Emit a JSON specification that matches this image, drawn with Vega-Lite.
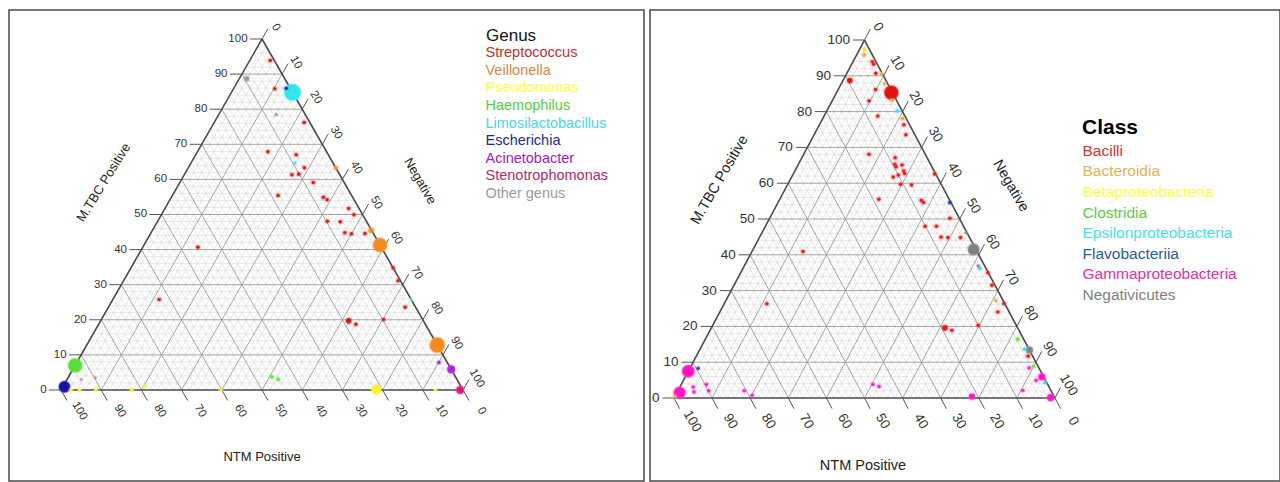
{
"$schema": "https://vega.github.io/schema/vega-lite/v6.json",
"background": "white",
"padding": {"left": 8, "top": 9, "right": 0, "bottom": 0},
"spacing": 4,
"config": {"view": {"stroke": "#4a4a4a", "strokeWidth": 1.5}, "font": "Liberation Sans", "text": {"font": "Liberation Sans"}, "legend": {"padding": 0}},
"resolve": {"scale": {"x": "independent", "y": "independent", "color": "independent", "stroke": "independent", "size": "independent"}, "legend": {"color": "independent", "size": "independent"}},
"datasets": {
"grid": [
{"k":"M","v":0},{"k":"M","v":2},{"k":"M","v":4},{"k":"M","v":6},{"k":"M","v":8},{"k":"M","v":10},{"k":"M","v":12},{"k":"M","v":14},{"k":"M","v":16},{"k":"M","v":18},{"k":"M","v":20},{"k":"M","v":22},{"k":"M","v":24},{"k":"M","v":26},{"k":"M","v":28},{"k":"M","v":30},{"k":"M","v":32},{"k":"M","v":34},{"k":"M","v":36},{"k":"M","v":38},{"k":"M","v":40},{"k":"M","v":42},{"k":"M","v":44},{"k":"M","v":46},{"k":"M","v":48},{"k":"M","v":50},{"k":"M","v":52},{"k":"M","v":54},{"k":"M","v":56},{"k":"M","v":58},{"k":"M","v":60},{"k":"M","v":62},{"k":"M","v":64},{"k":"M","v":66},{"k":"M","v":68},{"k":"M","v":70},{"k":"M","v":72},{"k":"M","v":74},{"k":"M","v":76},{"k":"M","v":78},{"k":"M","v":80},{"k":"M","v":82},{"k":"M","v":84},{"k":"M","v":86},{"k":"M","v":88},{"k":"M","v":90},{"k":"M","v":92},{"k":"M","v":94},{"k":"M","v":96},{"k":"M","v":98},
{"k":"G","v":0},{"k":"G","v":2},{"k":"G","v":4},{"k":"G","v":6},{"k":"G","v":8},{"k":"G","v":10},{"k":"G","v":12},{"k":"G","v":14},{"k":"G","v":16},{"k":"G","v":18},{"k":"G","v":20},{"k":"G","v":22},{"k":"G","v":24},{"k":"G","v":26},{"k":"G","v":28},{"k":"G","v":30},{"k":"G","v":32},{"k":"G","v":34},{"k":"G","v":36},{"k":"G","v":38},{"k":"G","v":40},{"k":"G","v":42},{"k":"G","v":44},{"k":"G","v":46},{"k":"G","v":48},{"k":"G","v":50},{"k":"G","v":52},{"k":"G","v":54},{"k":"G","v":56},{"k":"G","v":58},{"k":"G","v":60},{"k":"G","v":62},{"k":"G","v":64},{"k":"G","v":66},{"k":"G","v":68},{"k":"G","v":70},{"k":"G","v":72},{"k":"G","v":74},{"k":"G","v":76},{"k":"G","v":78},{"k":"G","v":80},{"k":"G","v":82},{"k":"G","v":84},{"k":"G","v":86},{"k":"G","v":88},{"k":"G","v":90},{"k":"G","v":92},{"k":"G","v":94},{"k":"G","v":96},{"k":"G","v":98},
{"k":"N","v":0},{"k":"N","v":2},{"k":"N","v":4},{"k":"N","v":6},{"k":"N","v":8},{"k":"N","v":10},{"k":"N","v":12},{"k":"N","v":14},{"k":"N","v":16},{"k":"N","v":18},{"k":"N","v":20},{"k":"N","v":22},{"k":"N","v":24},{"k":"N","v":26},{"k":"N","v":28},{"k":"N","v":30},{"k":"N","v":32},{"k":"N","v":34},{"k":"N","v":36},{"k":"N","v":38},{"k":"N","v":40},{"k":"N","v":42},{"k":"N","v":44},{"k":"N","v":46},{"k":"N","v":48},{"k":"N","v":50},{"k":"N","v":52},{"k":"N","v":54},{"k":"N","v":56},{"k":"N","v":58},{"k":"N","v":60},{"k":"N","v":62},{"k":"N","v":64},{"k":"N","v":66},{"k":"N","v":68},{"k":"N","v":70},{"k":"N","v":72},{"k":"N","v":74},{"k":"N","v":76},{"k":"N","v":78},{"k":"N","v":80},{"k":"N","v":82},{"k":"N","v":84},{"k":"N","v":86},{"k":"N","v":88},{"k":"N","v":90},{"k":"N","v":92},{"k":"N","v":94},{"k":"N","v":96},{"k":"N","v":98}
],
"ticks": [{"v":0},{"v":10},{"v":20},{"v":30},{"v":40},{"v":50},{"v":60},{"v":70},{"v":80},{"v":90},{"v":100}]
},
"hconcat": [
{
"width": 635, "height": 471,
"encoding": {
 "x": {"field": "x", "type": "quantitative", "scale": {"domain": [-12.94, 145.02], "nice": false, "zero": false}, "axis": null},
 "y": {"field": "y", "type": "quantitative", "scale": {"domain": [-25.93, 108.26], "nice": false, "zero": false}, "axis": null}
},
"layer": [
 {"data": {"name": "grid"},
  "transform": [
   {"calculate": "datum.k === 'M' ? datum.v / 2 : datum.k === 'G' ? datum.v : 100 - datum.v", "as": "x"},
   {"calculate": "datum.k === 'M' ? datum.v : 0", "as": "y"},
   {"calculate": "datum.k === 'M' ? 100 - datum.v / 2 : datum.k === 'G' ? (100 + datum.v) / 2 : (100 - datum.v) / 2", "as": "xe"},
   {"calculate": "datum.k === 'M' ? datum.v : 100 - datum.v", "as": "ye"}
  ],
  "layer": [
   {"transform": [{"filter": "datum.v % 10 !== 0"}], "mark": {"type": "rule", "color": "#d6d6d6", "strokeWidth": 0.6}, "encoding": {"x2": {"field": "xe"}, "y2": {"field": "ye"}}},
   {"transform": [{"filter": "datum.v % 10 === 0 && datum.v > 0"}], "mark": {"type": "rule", "color": "#9a9a9a", "strokeWidth": 0.9}, "encoding": {"x2": {"field": "xe"}, "y2": {"field": "ye"}}},
   {"transform": [{"filter": "datum.v === 0"}], "mark": {"type": "rule", "color": "#4a4a4a", "strokeWidth": 1.6}, "encoding": {"x2": {"field": "xe"}, "y2": {"field": "ye"}}}
  ]
 },
 {"data": {"name": "ticks"},
  "layer": [
   {"transform": [{"calculate": "datum.v / 2", "as": "x"}, {"calculate": "datum.v", "as": "y"}, {"calculate": "datum.v / 2 - 3", "as": "xe"}], "mark": {"type": "rule", "color": "#555555", "strokeWidth": 1}, "encoding": {"x2": {"field": "xe"}, "y2": {"field": "y"}}},
   {"transform": [{"calculate": "datum.v / 2 - 3.6", "as": "x"}, {"calculate": "datum.v", "as": "y"}], "mark": {"type": "text", "align": "right", "baseline": "middle", "fontSize": 11.5, "color": "#333333"}, "encoding": {"text": {"field": "v", "type": "quantitative"}}},
   {"transform": [{"calculate": "100 - datum.v", "as": "x"}, {"calculate": "0", "as": "y"}, {"calculate": "101.5 - datum.v", "as": "xe"}, {"calculate": "-3", "as": "ye"}], "mark": {"type": "rule", "color": "#555555", "strokeWidth": 1}, "encoding": {"x2": {"field": "xe"}, "y2": {"field": "ye"}}},
   {"transform": [{"calculate": "104.6 - datum.v", "as": "x"}, {"calculate": "-6", "as": "y"}], "mark": {"type": "text", "align": "center", "baseline": "middle", "angle": 60, "fontSize": 11.5, "color": "#333333"}, "encoding": {"text": {"field": "v", "type": "quantitative"}}},
   {"transform": [{"calculate": "(100 + datum.v) / 2", "as": "x"}, {"calculate": "100 - datum.v", "as": "y"}, {"calculate": "(103 + datum.v) / 2", "as": "xe"}, {"calculate": "103 - datum.v", "as": "ye"}], "mark": {"type": "rule", "color": "#555555", "strokeWidth": 1}, "encoding": {"x2": {"field": "xe"}, "y2": {"field": "ye"}}},
   {"transform": [{"calculate": "(100 + datum.v) / 2 + 3.4", "as": "x"}, {"calculate": "103.3 - datum.v", "as": "y"}], "mark": {"type": "text", "align": "center", "baseline": "middle", "angle": 60, "fontSize": 11.5, "color": "#333333"}, "encoding": {"text": {"field": "v", "type": "quantitative"}}}
  ]
 },
 {"data": {"values": [{"title": "M.TBC Positive"}]}, "transform": [{"calculate": "10.6", "as": "x"}, {"calculate": "59.1", "as": "y"}], "mark": {"type": "text", "angle": -58, "fontSize": 13, "color": "#222222", "align": "center", "baseline": "middle"}, "encoding": {"text": {"field": "title"}}},
 {"data": {"values": [{"title": "Negative"}]}, "transform": [{"calculate": "89.3", "as": "x"}, {"calculate": "59.5", "as": "y"}], "mark": {"type": "text", "angle": 60, "fontSize": 13, "color": "#222222", "align": "center", "baseline": "middle"}, "encoding": {"text": {"field": "title"}}},
 {"data": {"values": [{"title": "NTM Positive"}]}, "transform": [{"calculate": "50", "as": "x"}, {"calculate": "-19.1", "as": "y"}], "mark": {"type": "text", "fontSize": 13, "color": "#222222", "align": "center", "baseline": "middle"}, "encoding": {"text": {"field": "title"}}},
 {"data": {"values": [
  {"genus":"Other genus","mtbc":88.7,"ntm":9.5,"neg":1.8,"n":9},
  {"genus":"Streptococcus","mtbc":93.9,"ntm":1.0,"neg":5.1,"n":4},
  {"genus":"Streptococcus","mtbc":85.8,"ntm":3.9,"neg":10.3,"n":4},
  {"genus":"Escherichia","mtbc":86.0,"ntm":1.0,"neg":13.0,"n":3},
  {"genus":"Limosilactobacillus","mtbc":84.8,"ntm":0,"neg":15.2,"n":90},
  {"genus":"Other genus","mtbc":78.5,"ntm":7.2,"neg":14.3,"n":3},
  {"genus":"Streptococcus","mtbc":76.2,"ntm":1.4,"neg":22.4,"n":4},
  {"genus":"Streptococcus","mtbc":67.9,"ntm":14.6,"neg":17.5,"n":4},
  {"genus":"Streptococcus","mtbc":67.0,"ntm":8.0,"neg":25.0,"n":4},
  {"genus":"Limosilactobacillus","mtbc":64.7,"ntm":9.5,"neg":25.8,"n":3},
  {"genus":"Streptococcus","mtbc":63.3,"ntm":7.8,"neg":28.9,"n":4},
  {"genus":"Streptococcus","mtbc":61.3,"ntm":11.9,"neg":26.8,"n":4},
  {"genus":"Streptococcus","mtbc":61.5,"ntm":10.1,"neg":28.4,"n":4},
  {"genus":"Streptococcus","mtbc":59.1,"ntm":7.7,"neg":33.2,"n":4},
  {"genus":"Streptococcus","mtbc":55.4,"ntm":18.3,"neg":26.3,"n":4},
  {"genus":"Streptococcus","mtbc":54.9,"ntm":7.3,"neg":37.8,"n":4},
  {"genus":"Streptococcus","mtbc":54.2,"ntm":6.7,"neg":39.1,"n":4},
  {"genus":"Veillonella","mtbc":63.3,"ntm":0,"neg":36.7,"n":5},
  {"genus":"Streptococcus","mtbc":48.1,"ntm":9.7,"neg":42.2,"n":4},
  {"genus":"Streptococcus","mtbc":51.7,"ntm":2.6,"neg":45.7,"n":4},
  {"genus":"Streptococcus","mtbc":49.9,"ntm":2.2,"neg":47.9,"n":4},
  {"genus":"Streptococcus","mtbc":47.9,"ntm":6.6,"neg":45.5,"n":4},
  {"genus":"Streptococcus","mtbc":44.8,"ntm":7.0,"neg":48.2,"n":4},
  {"genus":"Streptococcus","mtbc":44.5,"ntm":5.5,"neg":50.0,"n":4},
  {"genus":"Streptococcus","mtbc":44.6,"ntm":2.1,"neg":53.3,"n":4},
  {"genus":"Veillonella","mtbc":45.5,"ntm":0.1,"neg":54.4,"n":9},
  {"genus":"Veillonella","mtbc":41.3,"ntm":0,"neg":58.7,"n":64},
  {"genus":"Streptococcus","mtbc":34.8,"ntm":0,"neg":65.2,"n":4},
  {"genus":"Streptococcus","mtbc":31.1,"ntm":0.6,"neg":68.3,"n":4},
  {"genus":"Limosilactobacillus","mtbc":25.8,"ntm":0,"neg":74.2,"n":2},
  {"genus":"Streptococcus","mtbc":23.6,"ntm":2.6,"neg":73.8,"n":4},
  {"genus":"Streptococcus","mtbc":19.7,"ntm":18.6,"neg":61.7,"n":10},
  {"genus":"Streptococcus","mtbc":18.7,"ntm":17.3,"neg":64.0,"n":4},
  {"genus":"Streptococcus","mtbc":20.1,"ntm":9.7,"neg":70.2,"n":4},
  {"genus":"Veillonella","mtbc":12.8,"ntm":0,"neg":87.2,"n":72},
  {"genus":"Acinetobacter","mtbc":7.8,"ntm":2.1,"neg":90.1,"n":4},
  {"genus":"Acinetobacter","mtbc":5.9,"ntm":0,"neg":94.1,"n":20},
  {"genus":"Stenotrophomonas","mtbc":0,"ntm":0.7,"neg":99.3,"n":20},
  {"genus":"Pseudomonas","mtbc":0.1,"ntm":21.5,"neg":78.4,"n":30},
  {"genus":"Pseudomonas","mtbc":0,"ntm":6.9,"neg":93.1,"n":3},
  {"genus":"Streptococcus","mtbc":40.7,"ntm":45.6,"neg":13.7,"n":4},
  {"genus":"Streptococcus","mtbc":25.8,"ntm":62.7,"neg":11.5,"n":4},
  {"genus":"Haemophilus","mtbc":7.0,"ntm":93.0,"neg":0,"n":64},
  {"genus":"Escherichia","mtbc":0.9,"ntm":98.7,"neg":0.4,"n":42},
  {"genus":"Pseudomonas","mtbc":0,"ntm":97.5,"neg":2.5,"n":4},
  {"genus":"Pseudomonas","mtbc":0,"ntm":95.4,"neg":4.6,"n":4},
  {"genus":"Pseudomonas","mtbc":0,"ntm":91.3,"neg":8.7,"n":4},
  {"genus":"Pseudomonas","mtbc":0,"ntm":82.4,"neg":17.6,"n":4},
  {"genus":"Pseudomonas","mtbc":1.1,"ntm":78.7,"neg":20.2,"n":4},
  {"genus":"Pseudomonas","mtbc":0,"ntm":60.2,"neg":39.8,"n":4},
  {"genus":"Other genus","mtbc":3.0,"ntm":93.5,"neg":3.5,"n":2},
  {"genus":"Other genus","mtbc":3.5,"ntm":89.7,"neg":6.8,"n":2},
  {"genus":"Haemophilus","mtbc":3.7,"ntm":45.7,"neg":50.6,"n":4},
  {"genus":"Haemophilus","mtbc":3.0,"ntm":44.5,"neg":52.5,"n":4}
  ]},
  "transform": [{"calculate": "datum.neg + datum.mtbc / 2", "as": "x"}, {"calculate": "datum.mtbc", "as": "y"}],
  "mark": {"type": "circle", "opacity": 1, "strokeWidth": 2.4, "strokeOpacity": 0.3},
  "encoding": {
   "color": {"field": "genus", "type": "nominal",
    "scale": {"domain": ["Streptococcus","Veillonella","Pseudomonas","Haemophilus","Limosilactobacillus","Escherichia","Acinetobacter","Stenotrophomonas","Other genus"],
              "range": ["#c41a1a","#f58a1e","#fff02a","#58df3a","#35e4ee","#1414a0","#b21fe0","#e0177c","#9a9a9a"]},
    "legend": {"orient": "none", "legendX": 477, "legendY": 18, "title": "Genus", "titleFont": "Liberation Sans", "titleFontSize": 17, "titleFontWeight": "normal", "titleColor": "#111111", "titlePadding": 1,
     "labelFont": "Liberation Sans", "labelFontSize": 14.5, "labelOffset": -15, "symbolSize": 0, "symbolOpacity": 0, "symbolStrokeWidth": 0, "rowPadding": 2.6,
     "labelColor": {"expr": "datum.label === 'Streptococcus' ? '#c0302e' : datum.label === 'Veillonella' ? '#d5884a' : datum.label === 'Pseudomonas' ? '#ffff44' : datum.label === 'Haemophilus' ? '#50d040' : datum.label === 'Limosilactobacillus' ? '#48d8e2' : datum.label === 'Escherichia' ? '#202c8c' : datum.label === 'Acinetobacter' ? '#9c20c4' : datum.label === 'Stenotrophomonas' ? '#b02a6e' : '#9a9a9a'"}}},
   "stroke": {"field": "genus", "type": "nominal",
    "scale": {"domain": ["Streptococcus","Veillonella","Pseudomonas","Haemophilus","Limosilactobacillus","Escherichia","Acinetobacter","Stenotrophomonas","Other genus"],
              "range": ["#f04a4a","#f5a050","#fff060","#80e860","#70eef4","#5050d0","#c860f0","#f060a0","#bbbbbb"]}, "legend": null},
   "size": {"field": "n", "type": "quantitative", "scale": {"domain": [0, 100], "range": [0, 314]}, "legend": null},
   "order": {"field": "n", "sort": "descending"}
  }
 }
]
},
{
"width": 630, "height": 471,
"encoding": {
 "x": {"field": "x", "type": "quantitative", "scale": {"domain": [-6.30, 159.06], "nice": false, "zero": false}, "axis": null},
 "y": {"field": "y", "type": "quantitative", "scale": {"domain": [-23.18, 108.38], "nice": false, "zero": false}, "axis": null}
},
"layer": [
 {"data": {"name": "grid"},
  "transform": [
   {"calculate": "datum.k === 'M' ? datum.v / 2 : datum.k === 'G' ? datum.v : 100 - datum.v", "as": "x"},
   {"calculate": "datum.k === 'M' ? datum.v : 0", "as": "y"},
   {"calculate": "datum.k === 'M' ? 100 - datum.v / 2 : datum.k === 'G' ? (100 + datum.v) / 2 : (100 - datum.v) / 2", "as": "xe"},
   {"calculate": "datum.k === 'M' ? datum.v : 100 - datum.v", "as": "ye"}
  ],
  "layer": [
   {"transform": [{"filter": "datum.v % 10 !== 0"}], "mark": {"type": "rule", "color": "#d6d6d6", "strokeWidth": 0.6}, "encoding": {"x2": {"field": "xe"}, "y2": {"field": "ye"}}},
   {"transform": [{"filter": "datum.v % 10 === 0 && datum.v > 0"}], "mark": {"type": "rule", "color": "#9a9a9a", "strokeWidth": 0.9}, "encoding": {"x2": {"field": "xe"}, "y2": {"field": "ye"}}},
   {"transform": [{"filter": "datum.v === 0"}], "mark": {"type": "rule", "color": "#4a4a4a", "strokeWidth": 1.6}, "encoding": {"x2": {"field": "xe"}, "y2": {"field": "ye"}}}
  ]
 },
 {"data": {"name": "ticks"},
  "layer": [
   {"transform": [{"calculate": "datum.v / 2", "as": "x"}, {"calculate": "datum.v", "as": "y"}, {"calculate": "datum.v / 2 - 3", "as": "xe"}], "mark": {"type": "rule", "color": "#555555", "strokeWidth": 1}, "encoding": {"x2": {"field": "xe"}, "y2": {"field": "y"}}},
   {"transform": [{"calculate": "datum.v / 2 - 3.8", "as": "x"}, {"calculate": "datum.v", "as": "y"}], "mark": {"type": "text", "align": "right", "baseline": "middle", "fontSize": 13.5, "color": "#333333"}, "encoding": {"text": {"field": "v", "type": "quantitative"}}},
   {"transform": [{"calculate": "100 - datum.v", "as": "x"}, {"calculate": "0", "as": "y"}, {"calculate": "101.5 - datum.v", "as": "xe"}, {"calculate": "-3", "as": "ye"}], "mark": {"type": "rule", "color": "#555555", "strokeWidth": 1}, "encoding": {"x2": {"field": "xe"}, "y2": {"field": "ye"}}},
   {"transform": [{"calculate": "104.8 - datum.v", "as": "x"}, {"calculate": "-6.5", "as": "y"}], "mark": {"type": "text", "align": "center", "baseline": "middle", "angle": 60, "fontSize": 13.5, "color": "#333333"}, "encoding": {"text": {"field": "v", "type": "quantitative"}}},
   {"transform": [{"calculate": "(100 + datum.v) / 2", "as": "x"}, {"calculate": "100 - datum.v", "as": "y"}, {"calculate": "(103 + datum.v) / 2", "as": "xe"}, {"calculate": "103 - datum.v", "as": "ye"}], "mark": {"type": "rule", "color": "#555555", "strokeWidth": 1}, "encoding": {"x2": {"field": "xe"}, "y2": {"field": "ye"}}},
   {"transform": [{"calculate": "(100 + datum.v) / 2 + 3.6", "as": "x"}, {"calculate": "103.6 - datum.v", "as": "y"}], "mark": {"type": "text", "align": "center", "baseline": "middle", "angle": 60, "fontSize": 13.5, "color": "#333333"}, "encoding": {"text": {"field": "v", "type": "quantitative"}}}
  ]
 },
 {"data": {"values": [{"title": "M.TBC Positive"}]}, "transform": [{"calculate": "12.0", "as": "x"}, {"calculate": "60.9", "as": "y"}], "mark": {"type": "text", "angle": -60, "fontSize": 14.5, "color": "#222222", "align": "center", "baseline": "middle"}, "encoding": {"text": {"field": "title"}}},
 {"data": {"values": [{"title": "Negative"}]}, "transform": [{"calculate": "88.4", "as": "x"}, {"calculate": "59.2", "as": "y"}], "mark": {"type": "text", "angle": 60, "fontSize": 14.5, "color": "#222222", "align": "center", "baseline": "middle"}, "encoding": {"text": {"field": "title"}}},
 {"data": {"values": [{"title": "NTM Positive"}]}, "transform": [{"calculate": "49.6", "as": "x"}, {"calculate": "-19.0", "as": "y"}], "mark": {"type": "text", "fontSize": 14.5, "color": "#222222", "align": "center", "baseline": "middle"}, "encoding": {"text": {"field": "title"}}},
 {"data": {"values": [
  {"cls":"Betaproteobacteria","mtbc":97.4,"ntm":1.3,"neg":1.3,"n":5},
  {"cls":"Bacteroidia","mtbc":95.8,"ntm":2.2,"neg":2.0,"n":5},
  {"cls":"Bacilli","mtbc":93.9,"ntm":1.0,"neg":5.1,"n":4},
  {"cls":"Bacilli","mtbc":93.2,"ntm":1.0,"neg":5.8,"n":4},
  {"cls":"Bacilli","mtbc":88.7,"ntm":9.5,"neg":1.8,"n":10},
  {"cls":"Bacilli","mtbc":90.7,"ntm":1.7,"neg":7.6,"n":4},
  {"cls":"Bacteroidia","mtbc":90.6,"ntm":0.3,"neg":9.1,"n":4},
  {"cls":"Bacteroidia","mtbc":87.8,"ntm":0.9,"neg":11.3,"n":4},
  {"cls":"Bacilli","mtbc":86.2,"ntm":4.0,"neg":9.8,"n":4},
  {"cls":"Bacilli","mtbc":85.3,"ntm":0.3,"neg":14.4,"n":64},
  {"cls":"Bacteroidia","mtbc":83.1,"ntm":1.2,"neg":15.7,"n":4},
  {"cls":"Bacilli","mtbc":83.0,"ntm":7.3,"neg":9.7,"n":4},
  {"cls":"Epsilonproteobacteria","mtbc":80.2,"ntm":1.2,"neg":18.6,"n":4},
  {"cls":"Bacilli","mtbc":78.8,"ntm":7.1,"neg":14.1,"n":4},
  {"cls":"Bacteroidia","mtbc":78.1,"ntm":1.0,"neg":20.9,"n":5},
  {"cls":"Bacilli","mtbc":76.3,"ntm":1.5,"neg":22.2,"n":4},
  {"cls":"Bacilli","mtbc":73.5,"ntm":2.4,"neg":24.1,"n":4},
  {"cls":"Bacilli","mtbc":68.1,"ntm":14.8,"neg":17.1,"n":4},
  {"cls":"Bacilli","mtbc":67.1,"ntm":8.4,"neg":24.5,"n":4},
  {"cls":"Bacilli","mtbc":65.3,"ntm":9.4,"neg":25.3,"n":4},
  {"cls":"Bacilli","mtbc":64.6,"ntm":9.4,"neg":26.0,"n":4},
  {"cls":"Bacilli","mtbc":65.1,"ntm":7.6,"neg":27.3,"n":4},
  {"cls":"Bacilli","mtbc":63.4,"ntm":8.0,"neg":28.6,"n":4},
  {"cls":"Bacilli","mtbc":62.7,"ntm":8.1,"neg":29.2,"n":4},
  {"cls":"Bacilli","mtbc":61.7,"ntm":11.6,"neg":26.7,"n":4},
  {"cls":"Bacilli","mtbc":62.3,"ntm":10.0,"neg":27.7,"n":4},
  {"cls":"Bacilli","mtbc":59.7,"ntm":10.7,"neg":29.6,"n":4},
  {"cls":"Bacilli","mtbc":59.5,"ntm":7.9,"neg":32.6,"n":4},
  {"cls":"Bacilli","mtbc":62.6,"ntm":0.3,"neg":37.1,"n":4},
  {"cls":"Bacilli","mtbc":55.5,"ntm":18.5,"neg":26.0,"n":4},
  {"cls":"Bacilli","mtbc":55.2,"ntm":7.5,"neg":37.3,"n":4},
  {"cls":"Bacilli","mtbc":54.6,"ntm":7.2,"neg":38.2,"n":4},
  {"cls":"Flavobacteriia","mtbc":54.6,"ntm":0.3,"neg":45.1,"n":4},
  {"cls":"Bacilli","mtbc":50.2,"ntm":2.5,"neg":47.3,"n":4},
  {"cls":"Bacilli","mtbc":48.0,"ntm":10.1,"neg":41.9,"n":4},
  {"cls":"Bacilli","mtbc":48.0,"ntm":7.1,"neg":44.9,"n":4},
  {"cls":"Bacilli","mtbc":45.0,"ntm":7.4,"neg":47.6,"n":4},
  {"cls":"Bacilli","mtbc":44.8,"ntm":5.7,"neg":49.5,"n":4},
  {"cls":"Bacilli","mtbc":44.8,"ntm":2.4,"neg":52.8,"n":4},
  {"cls":"Negativicutes","mtbc":46.2,"ntm":0.2,"neg":53.6,"n":3},
  {"cls":"Negativicutes","mtbc":41.5,"ntm":0.6,"neg":57.9,"n":44},
  {"cls":"Negativicutes","mtbc":36.9,"ntm":1.7,"neg":61.4,"n":3},
  {"cls":"Epsilonproteobacteria","mtbc":36.2,"ntm":1.6,"neg":62.2,"n":4},
  {"cls":"Bacilli","mtbc":35.0,"ntm":0.1,"neg":64.9,"n":4},
  {"cls":"Bacilli","mtbc":31.5,"ntm":0.8,"neg":67.7,"n":4},
  {"cls":"Bacteroidia","mtbc":27.2,"ntm":1.9,"neg":70.9,"n":4},
  {"cls":"Bacilli","mtbc":26.4,"ntm":0.2,"neg":73.4,"n":4},
  {"cls":"Bacilli","mtbc":24.0,"ntm":3.0,"neg":73.0,"n":4},
  {"cls":"Bacilli","mtbc":19.6,"ntm":19.1,"neg":61.3,"n":10},
  {"cls":"Bacilli","mtbc":18.9,"ntm":17.6,"neg":63.5,"n":4},
  {"cls":"Bacilli","mtbc":20.3,"ntm":10.0,"neg":69.7,"n":4},
  {"cls":"Clostridia","mtbc":16.4,"ntm":1.6,"neg":82.0,"n":5},
  {"cls":"Negativicutes","mtbc":13.4,"ntm":0,"neg":86.6,"n":16},
  {"cls":"Epsilonproteobacteria","mtbc":13.6,"ntm":1.2,"neg":85.2,"n":4},
  {"cls":"Bacilli","mtbc":11.7,"ntm":1.2,"neg":87.1,"n":4},
  {"cls":"Clostridia","mtbc":8.9,"ntm":1.2,"neg":89.9,"n":4},
  {"cls":"Gammaproteobacteria","mtbc":8.4,"ntm":2.6,"neg":89.0,"n":4},
  {"cls":"Gammaproteobacteria","mtbc":5.9,"ntm":0.5,"neg":93.6,"n":16},
  {"cls":"Gammaproteobacteria","mtbc":4.9,"ntm":2.5,"neg":92.6,"n":4},
  {"cls":"Epsilonproteobacteria","mtbc":4.3,"ntm":0.5,"neg":95.2,"n":4},
  {"cls":"Gammaproteobacteria","mtbc":2.1,"ntm":7.4,"neg":90.5,"n":4},
  {"cls":"Gammaproteobacteria","mtbc":0.4,"ntm":21.6,"neg":78.0,"n":13},
  {"cls":"Gammaproteobacteria","mtbc":0.1,"ntm":1.1,"neg":98.8,"n":16},
  {"cls":"Gammaproteobacteria","mtbc":7.5,"ntm":92.5,"neg":0,"n":50},
  {"cls":"Flavobacteriia","mtbc":8.3,"ntm":89.5,"neg":2.2,"n":3},
  {"cls":"Gammaproteobacteria","mtbc":1.5,"ntm":97.8,"neg":0.7,"n":46},
  {"cls":"Gammaproteobacteria","mtbc":3.1,"ntm":93.4,"neg":3.5,"n":4},
  {"cls":"Gammaproteobacteria","mtbc":1.7,"ntm":93.9,"neg":4.4,"n":4},
  {"cls":"Gammaproteobacteria","mtbc":3.8,"ntm":89.6,"neg":6.6,"n":4},
  {"cls":"Gammaproteobacteria","mtbc":2.0,"ntm":89.9,"neg":8.1,"n":4},
  {"cls":"Gammaproteobacteria","mtbc":2.0,"ntm":80.6,"neg":17.4,"n":4},
  {"cls":"Gammaproteobacteria","mtbc":0.8,"ntm":79.1,"neg":20.1,"n":4},
  {"cls":"Bacteroidia","mtbc":0.4,"ntm":99.6,"neg":0,"n":3},
  {"cls":"Bacilli","mtbc":40.9,"ntm":45.7,"neg":13.4,"n":4},
  {"cls":"Bacilli","mtbc":26.3,"ntm":62.5,"neg":11.2,"n":4},
  {"cls":"Gammaproteobacteria","mtbc":3.8,"ntm":45.9,"neg":50.3,"n":4},
  {"cls":"Gammaproteobacteria","mtbc":3.2,"ntm":44.6,"neg":52.2,"n":4}
  ]},
  "transform": [{"calculate": "datum.neg + datum.mtbc / 2", "as": "x"}, {"calculate": "datum.mtbc", "as": "y"}],
  "mark": {"type": "circle", "opacity": 1, "strokeWidth": 2.4, "strokeOpacity": 0.3},
  "encoding": {
   "color": {"field": "cls", "type": "nominal",
    "scale": {"domain": ["Bacilli","Bacteroidia","Betaproteobacteria","Clostridia","Epsilonproteobacteria","Flavobacteriia","Gammaproteobacteria","Negativicutes"],
              "range": ["#e21212","#e9b23c","#f7e83a","#6fdc4a","#3ad8ea","#16309a","#ff14c4","#808080"]},
    "legend": {"orient": "none", "legendX": 432, "legendY": 107, "title": "Class", "titleFont": "Liberation Sans", "titleFontSize": 21, "titleFontWeight": "bold", "titleColor": "#000000", "titlePadding": 5,
     "labelFont": "Liberation Sans", "labelFontSize": 15.5, "labelOffset": -15, "symbolSize": 0, "symbolOpacity": 0, "symbolStrokeWidth": 0, "rowPadding": 3.6,
     "labelColor": {"expr": "datum.label === 'Bacilli' ? '#cc3333' : datum.label === 'Bacteroidia' ? '#e2b455' : datum.label === 'Betaproteobacteria' ? '#ffff40' : datum.label === 'Clostridia' ? '#5ccc48' : datum.label === 'Epsilonproteobacteria' ? '#48e0ec' : datum.label === 'Flavobacteriia' ? '#2a5d94' : datum.label === 'Gammaproteobacteria' ? '#e030aa' : '#7f7f7f'"}}},
   "stroke": {"field": "cls", "type": "nominal",
    "scale": {"domain": ["Bacilli","Bacteroidia","Betaproteobacteria","Clostridia","Epsilonproteobacteria","Flavobacteriia","Gammaproteobacteria","Negativicutes"],
              "range": ["#f05050","#f0c870","#fff070","#90ea70","#70eaf4","#5068c0","#ff60d8","#aaaaaa"]}, "legend": null},
   "size": {"field": "n", "type": "quantitative", "scale": {"domain": [0, 100], "range": [0, 314]}, "legend": null},
   "order": {"field": "n", "sort": "descending"}
  }
 }
]
}
]
}
